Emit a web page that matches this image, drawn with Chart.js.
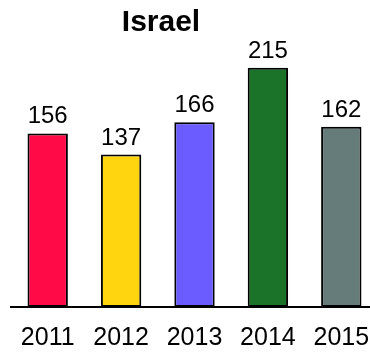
<!DOCTYPE html>
<html>
<head>
<meta charset="utf-8">
<script src="https://cdn.jsdelivr.net/npm/chart.js@4"></script>
<style>
  html, body { margin: 0; padding: 0; background: #fff; overflow: hidden; }
  #wrap { width: 378px; height: 354px; }
</style>
</head>
<body>
<div id="wrap"><canvas id="israelChart"></canvas></div>
<script>
// data
const years = ["2011", "2012", "2013", "2014", "2015"];
const values = [156, 137, 166, 215, 162];
const barColors = ["#ff0a47", "#ffd510", "#6a5cff", "#1b7229", "#657c7a"];
const chartTitle = "Israel";

// title and value labels drawn on the canvas
const labelPlugin = {
  id: "labels",
  afterDatasetsDraw(chart) {
    const ctx = chart.ctx;
    ctx.save();
    ctx.fillStyle = "#000";
    ctx.textAlign = "center";
    ctx.textBaseline = "alphabetic";
    ctx.font = "24px 'Liberation Sans', Arial, sans-serif";
    chart.getDatasetMeta(0).data.forEach((bar, i) => {
      ctx.fillText(String(values[i]), bar.x, bar.y - 10);
    });
    ctx.font = "bold 30px 'Liberation Sans', Arial, sans-serif";
    ctx.fillText(chartTitle, 161, 31);
    ctx.restore();
  }
};

new Chart(document.getElementById("israelChart"), {
  type: "bar",
  data: {
    labels: years,
    datasets: [{
      data: values,
      backgroundColor: barColors,
      borderColor: "#000",
      borderWidth: 2,
      borderSkipped: false,
      barPercentage: 0.55,
      categoryPercentage: 1,
    }],
  },
  options: {
    responsive: true,
    maintainAspectRatio: false,
    animation: false,
    layout: { padding: { top: 40, left: 11, right: 0, bottom: 0 } },
    scales: {
      y: { display: false, min: 0, max: 240 },
      x: {
        grid: { display: false },
        border: { display: true, color: "#000", width: 2 },
        ticks: { color: "#000", padding: 8, font: { size: 25, family: "'Liberation Sans', Arial, sans-serif" } },
        afterFit(axis) { axis.height = 47; }
      }
    },
    plugins: {
      legend: { display: false },
      tooltip: { enabled: false }
    }
  },
  plugins: [labelPlugin],
});
</script>
</body>
</html>
